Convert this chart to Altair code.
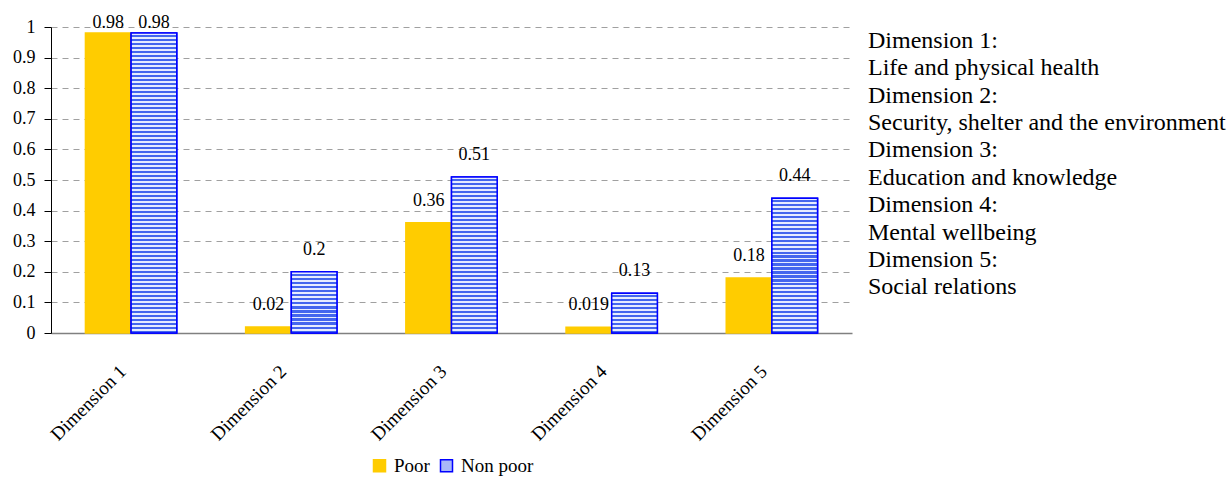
import altair as alt
import pandas as pd

# ---------------- data ----------------
dimensions = ["Dimension 1", "Dimension 2", "Dimension 3", "Dimension 4", "Dimension 5"]
groups = ["Poor", "Non poor"]
poor_values = [0.98, 0.02, 0.36, 0.019, 0.18]
nonpoor_values = [0.98, 0.2, 0.51, 0.13, 0.44]
y_ticks = [0, 0.1, 0.2, 0.3, 0.4, 0.5, 0.6, 0.7, 0.8, 0.9, 1]
side_lines = [
    "Dimension 1:",
    "Life and physical health",
    "Dimension 2:",
    "Security, shelter and the environment",
    "Dimension 3:",
    "Education and knowledge",
    "Dimension 4:",
    "Mental wellbeing",
    "Dimension 5:",
    "Social relations",
]

rows = []
for d, p, n in zip(dimensions, poor_values, nonpoor_values):
    rows.append({"dim": d, "group": "Poor", "value": p, "label": str(p)})
    rows.append({"dim": d, "group": "Non poor", "value": n, "label": str(n)})
df = pd.DataFrame(rows)

# ---------------- style ----------------
W, H = 801, 306
SERIF = "Liberation Serif"
YELLOW = "#FFCC00"
BLUE = "#0000FF"
STRIPE = "#4466EE"
LIGHT = "#E6ECFF"


def stripes(v):
    n = max(1, round(v * H / 4))
    stops = []
    for i in range(n):
        a, b, c = i / n, (i + 0.42) / n, (i + 1) / n
        stops += [
            {"offset": a, "color": LIGHT},
            {"offset": b, "color": LIGHT},
            {"offset": b, "color": STRIPE},
            {"offset": c, "color": STRIPE},
        ]
    return {"gradient": "linear", "x1": 0, "y1": 0, "x2": 0, "y2": 1, "stops": stops}


x_axis = alt.Axis(
    title=None, labelAngle=-45, labelAlign="right", labelBaseline="middle",
    labelPadding=35, labelOffset=-8, ticks=False, domainColor="#808080", domainWidth=1.5,
    labelFont=SERIF, labelFontSize=19, labelColor="black", grid=False,
)
y_axis = alt.Axis(
    title=None, values=y_ticks, format="~g", grid=True, gridDash=[6, 5],
    gridColor="#a0a0a0", tickSize=7, tickColor="black", domainColor="black",
    labelPadding=9, labelFont=SERIF, labelFontSize=18, labelColor="black",
    labelOverlap=False,
)
x_enc = alt.X("dim:N", sort=dimensions,
              scale=alt.Scale(domain=dimensions, paddingInner=0.43, paddingOuter=0.215),
              axis=x_axis)
xo_enc = alt.XOffset("group:N", sort=groups,
                     scale=alt.Scale(domain=groups, paddingInner=0, paddingOuter=0))
y_scale = alt.Scale(domain=[0, 1], nice=False)

legend = alt.Legend(
    title=None, orient="none", legendX=319, legendY=429, direction="horizontal",
    symbolType="square", symbolSize=144, symbolStrokeWidth=1.5,
    labelFont=SERIF, labelFontSize=19, labelColor="black",
    columnPadding=7, labelOffset=5,
)

base = alt.Chart(df)

bars = base.mark_bar(strokeWidth=1.5).encode(
    x=x_enc,
    xOffset=xo_enc,
    y=alt.Y("value:Q", scale=y_scale, axis=y_axis),
    color=alt.Color("group:N", sort=groups,
                    scale=alt.Scale(domain=groups, range=[YELLOW, "#A8B8F8"]),
                    legend=legend),
    stroke=alt.Stroke("group:N", sort=groups,
                      scale=alt.Scale(domain=groups, range=[YELLOW, BLUE]),
                      legend=legend),
)

layers = [bars]
for d, n in zip(dimensions, nonpoor_values):
    layers.append(
        base.transform_filter(
            (alt.datum.dim == d) & (alt.datum.group == "Non poor")
        ).mark_bar(fill=stripes(n), stroke=BLUE, strokeWidth=1.5).encode(
            x=x_enc, xOffset=xo_enc,
            y=alt.Y("value:Q", scale=y_scale, axis=y_axis),
        )
    )

labels = base.transform_calculate(
    label_y="min(datum.value + 0.072, 1.013)"
).mark_text(font=SERIF, fontSize=18, baseline="middle", color="black").encode(
    x=x_enc, xOffset=xo_enc,
    y=alt.Y("label_y:Q", scale=y_scale, axis=y_axis),
    text="label:N",
)
layers.append(labels)

main = alt.layer(*layers).properties(width=W, height=H)

side_df = pd.DataFrame({"i": list(range(len(side_lines))), "line": side_lines})
side = alt.Chart(side_df).mark_text(
    align="left", baseline="middle", font=SERIF, fontSize=24, color="black"
).encode(
    x=alt.value(0),
    y=alt.Y("i:O", axis=None, scale=alt.Scale(paddingInner=0, paddingOuter=0)),
    text="line:N",
).properties(width=360, height=274)

chart = alt.hconcat(main, side, spacing=16).properties(
    padding={"left": 12, "top": 14, "right": 0, "bottom": 0}
).configure_view(stroke=None).configure_axis(
    labelFont=SERIF, labelColor="black"
).configure_legend(
    labelFont=SERIF, labelColor="black"
).configure_text(font=SERIF)

chart.save("out.html", embed_options={"renderer": "svg", "actions": False})
